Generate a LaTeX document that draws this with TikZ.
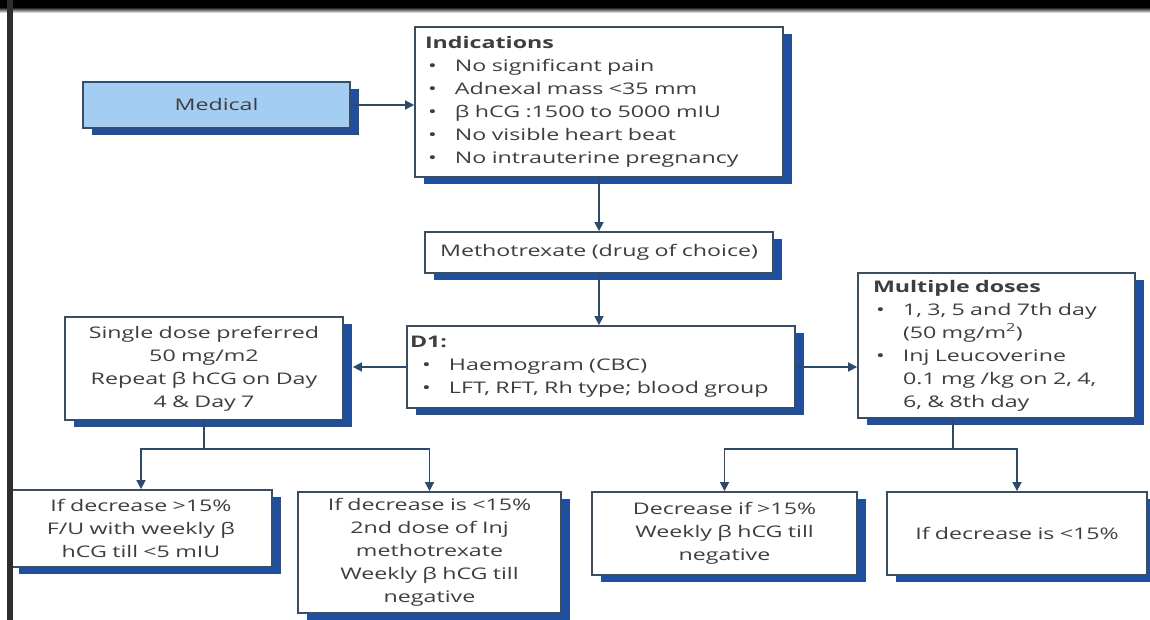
\documentclass[tikz,border=0pt]{standalone}
\usepackage{fontspec}
\setmainfont[FakeStretch=1.45]{Open Sans}
\usetikzlibrary{arrows.meta,shadows}

\definecolor{boxline}{HTML}{3B4D60}
\definecolor{boxshade}{HTML}{1F4F9E}
\definecolor{medfill}{HTML}{A3CDF3}
\definecolor{txt}{HTML}{3E3E3E}
\definecolor{conn}{HTML}{2C4A6B}
\definecolor{frame}{HTML}{2E2E2E}

% bullet followed by a fixed indent for the item text
\newcommand\bul[1][30pt]{\makebox[#1][l]{\hspace*{3pt}\textbullet}}

\tikzset{
  box/.style={draw=boxline, line width=1.8pt, fill=white, text=txt,
    inner ysep=0pt, font=\fontsize{16}{23}\selectfont,
    drop shadow={shadow xshift=9pt, shadow yshift=-7pt, fill=boxshade, opacity=1}},
  arr/.style={draw=conn, line width=1.6pt, -{Triangle[length=9pt,width=9pt]}},
  link/.style={draw=conn, line width=1.6pt},
}

\begin{document}
\begin{tikzpicture}[x=1pt,y=-1pt]
\useasboundingbox (0,0) rectangle (1150,620);
\fill[white] (0,0) rectangle (1150,620);

% boxes
\node[box, fill=medfill, minimum width=267pt, minimum height=46pt,
  text width=247pt, inner xsep=10pt, align=center] (med) at (216.5,105) {Medical};

\node[box, minimum width=368pt, minimum height=150pt,
  text width=348pt, inner xsep=10pt, align=left] (ind) at (599,102)
  {\textbf{Indications}\\
   \bul No significant pain\\
   \bul Adnexal mass <35 mm\\
   \bul β hCG :1500 to 5000 mIU\\
   \bul No visible heart beat\\
   \bul No intrauterine pregnancy};

\node[box, minimum width=348pt, minimum height=41pt,
  text width=328pt, inner xsep=10pt, align=center] (meth) at (599,252.5)
  {Methotrexate (drug of choice)};

\node[box, minimum width=388pt, minimum height=82pt,
  text width=382pt, inner xsep=3pt, align=left] (d1) at (601,367)
  {\textbf{D1:}\\
   \hspace*{9pt}\bul Haemogram (CBC)\\
   \hspace*{9pt}\bul LFT, RFT, Rh type; blood group};

\node[box, minimum width=278pt, minimum height=103pt,
  text width=262pt, inner xsep=8pt, align=center] (sgl) at (204,368.5)
  {Single dose preferred\\
   50 mg/m2\\
   Repeat β hCG on Day\\
   4 \& Day 7};

\node[box, minimum width=277pt, minimum height=145pt,
  text width=247pt, inner xsep=15pt, align=left] (mul) at (996.5,345.5)
  {\textbf{Multiple doses}\\
   \bul 1, 3, 5 and 7th day\\
   \hspace*{30pt}(50 mg/m\textsuperscript{2})\\
   \bul Inj Leucoverine\\
   \hspace*{30pt}0.1 mg /kg on 2, 4,\\
   \hspace*{30pt}6, \& 8th day};

\node[box, minimum width=262pt, minimum height=77pt,
  text width=246pt, inner xsep=8pt, align=center] (b1) at (141,528.5)
  {If decrease >15\%\\
   F/U with weekly β\\
   hCG till <5 mIU};

\node[box, minimum width=263pt, minimum height=121pt,
  text width=247pt, inner xsep=8pt, align=center] (b2) at (429.5,552.5)
  {If decrease is <15\%\\
   2nd dose of Inj\\
   methotrexate\\
   Weekly β hCG till\\
   negative};

\node[box, minimum width=265pt, minimum height=83pt,
  text width=249pt, inner xsep=8pt, align=center] (b3) at (724.5,533.5)
  {Decrease if >15\%\\
   Weekly β hCG till\\
   negative};

\node[box, minimum width=260pt, minimum height=83pt,
  text width=244pt, inner xsep=8pt, align=center] (b4) at (1017,533.5)
  {If decrease is <15\%};

% connectors
\draw[arr] (med.east) -- (med.east -| ind.west);
\draw[arr] (ind.south) -- (meth.north);
\draw[arr] (meth.south) -- (meth.south |- d1.north);
\draw[arr] (d1.west) -- ([xshift=9pt]sgl.east |- d1.west);
\draw[arr] (d1.east) -- (d1.east -| mul.west);

\coordinate (j1) at (204,449);
\draw[link] (sgl.south) -- (j1);
\draw[arr] (j1) -| (b1.north);
\draw[arr] (j1) -| (b2.north);

\coordinate (j2) at (953,449);
\draw[link] (mul.south -| j2) -- (j2);
\draw[arr] (j2) -| (b3.north);
\draw[arr] (j2) -| (b4.north);

% frame: dark band along the top and rule down the left side
\fill[black] (0,0) rectangle (1150,8);
\shade[top color=black!85, bottom color=white] (0,8) rectangle (1150,13);
\fill[frame] (7,0) rectangle (13,620);
\end{tikzpicture}
\end{document}
